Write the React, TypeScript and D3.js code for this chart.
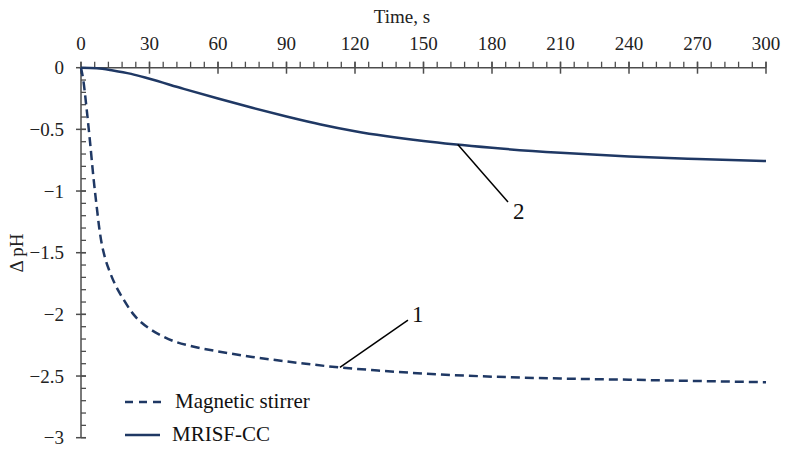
import React, { useEffect, useRef } from 'react';
import * as d3 from 'd3';

// Curve 1: magnetic stirrer
const timeMagnetic = [0, 1, 2.5, 4, 5.4, 6.9, 8, 9, 10.5, 12.5, 15, 18, 23, 29.5, 35, 41, 49, 60, 75, 96, 113, 130, 150, 180, 210, 240, 270, 300];
const dphMagnetic = [0, -0.1, -0.34, -0.61, -0.88, -1.13, -1.3, -1.42, -1.54, -1.65, -1.76, -1.86, -2.0, -2.11, -2.17, -2.22, -2.26, -2.3, -2.345, -2.395, -2.43, -2.455, -2.48, -2.505, -2.52, -2.53, -2.54, -2.55];

// Curve 2: MRISF-CC
const timeMrisf = [0, 7, 14, 22, 30, 45, 60, 75, 90, 105, 120, 150, 180, 210, 240, 270, 300];
const dphMrisf = [0, -0.004, -0.022, -0.05, -0.09, -0.172, -0.25, -0.325, -0.395, -0.46, -0.515, -0.595, -0.65, -0.69, -0.72, -0.74, -0.757];

const xTicks = [0, 30, 60, 90, 120, 150, 180, 210, 240, 270, 300];
const yTicks = [0, -0.5, -1, -1.5, -2, -2.5, -3];
const yTickLabels = ['0', '-0.5', '-1', '-1.5', '-2', '-2.5', '-3'];

const legendLabels = ['Magnetic stirrer', 'MRISF-CC'];

// leader lines: [curve point t, v] -> [end t, v]
const calloutLabels = ['1', '2'];
const calloutFrom = [[113.4, -2.43], [165, -0.622]];
const calloutTo = [[143.2, -2.046], [187, -1.089]];

const App = () => {
  const ref = useRef<SVGSVGElement>(null);

  useEffect(() => {
    const svg = d3.select(ref.current);
    svg.selectAll('*').remove();

    const x = d3.scaleLinear().domain([0, 300]).range([81, 766]);
    const y = d3.scaleLinear().domain([0, -3]).range([67.7, 437.7]);

    const axisColor = '#4d4d4d';
    const lineColor = '#1f3864';
    const font = 'Liberation Serif, Times New Roman, serif';

    const g = svg.append('g');

    // x axis (top)
    g.append('line')
      .attr('x1', x(0)).attr('x2', x(300))
      .attr('y1', y(0)).attr('y2', y(0))
      .attr('stroke', axisColor).attr('stroke-width', 1.5);
    g.selectAll('.xminor')
      .data(d3.range(0, 301, 6))
      .enter().append('line')
      .attr('x1', d => x(d)).attr('x2', d => x(d))
      .attr('y1', y(0) - 6).attr('y2', y(0))
      .attr('stroke', axisColor).attr('stroke-width', 1.3);
    g.selectAll('.xmajor')
      .data(xTicks)
      .enter().append('line')
      .attr('x1', d => x(d)).attr('x2', d => x(d))
      .attr('y1', y(0) - 6).attr('y2', y(0) + 6)
      .attr('stroke', axisColor).attr('stroke-width', 1.5);
    g.selectAll('.xlabel')
      .data(xTicks)
      .enter().append('text')
      .attr('x', d => x(d))
      .attr('y', y(0) - 17.5)
      .attr('text-anchor', 'middle')
      .attr('font-family', font).attr('font-size', 19)
      .attr('fill', '#222')
      .text(d => String(d));
    g.append('text')
      .attr('x', 402).attr('y', 23)
      .attr('text-anchor', 'middle')
      .attr('font-family', font).attr('font-size', 19)
      .attr('fill', '#222')
      .text('Time, s');

    // y axis (left)
    g.append('line')
      .attr('x1', x(0)).attr('x2', x(0))
      .attr('y1', y(0)).attr('y2', y(-3))
      .attr('stroke', axisColor).attr('stroke-width', 1.5);
    g.selectAll('.yminor')
      .data(d3.range(0, 31).map(i => -i / 10))
      .enter().append('line')
      .attr('x1', x(0)).attr('x2', x(0) + 5)
      .attr('y1', d => y(d)).attr('y2', d => y(d))
      .attr('stroke', axisColor).attr('stroke-width', 1.3);
    g.selectAll('.ymajor')
      .data(yTicks)
      .enter().append('line')
      .attr('x1', x(0) - 5).attr('x2', x(0) + 5)
      .attr('y1', d => y(d)).attr('y2', d => y(d))
      .attr('stroke', axisColor).attr('stroke-width', 1.5);
    g.selectAll('.ylabel')
      .data(yTicks)
      .enter().append('text')
      .attr('x', x(0) - 17)
      .attr('y', d => y(d))
      .attr('dy', '0.35em')
      .attr('text-anchor', 'end')
      .attr('font-family', font).attr('font-size', 19)
      .attr('fill', '#222')
      .text((d, i) => yTickLabels[i].replace('-', '\u2212'));
    g.append('text')
      .attr('transform', 'translate(23,253) rotate(-90)')
      .attr('text-anchor', 'middle')
      .attr('font-family', font).attr('font-size', 19)
      .attr('fill', '#222')
      .text('\u0394 pH');

    // curves
    const line = d3.line<[number, number]>()
      .x(d => x(d[0]))
      .y(d => y(d[1]))
      .curve(d3.curveMonotoneX);

    g.append('path')
      .datum(timeMrisf.map((t, i) => [t, dphMrisf[i]] as [number, number]))
      .attr('d', line)
      .attr('fill', 'none')
      .attr('stroke', lineColor)
      .attr('stroke-width', 2.5);

    g.append('path')
      .datum(timeMagnetic.map((t, i) => [t, dphMagnetic[i]] as [number, number]))
      .attr('d', line)
      .attr('fill', 'none')
      .attr('stroke', lineColor)
      .attr('stroke-width', 2.5)
      .attr('stroke-dasharray', '9,5');

    // callouts
    calloutLabels.forEach((lab, i) => {
      const [t0, v0] = calloutFrom[i];
      const [t1, v1] = calloutTo[i];
      g.append('line')
        .attr('x1', x(t0)).attr('y1', y(v0))
        .attr('x2', x(t1)).attr('y2', y(v1))
        .attr('stroke', '#000').attr('stroke-width', 1.5);
      g.append('text')
        .attr('x', x(t1) + (i === 0 ? 4 : 5))
        .attr('y', y(v1) + (i === 0 ? 2 : 17))
        .attr('font-family', font).attr('font-size', 23)
        .attr('fill', '#111')
        .text(lab);
    });

    // legend
    const legend = g.append('g');
    legend.append('line')
      .attr('x1', 125).attr('x2', 162).attr('y1', 402).attr('y2', 402)
      .attr('stroke', lineColor).attr('stroke-width', 2.5)
      .attr('stroke-dasharray', '8,6');
    legend.append('line')
      .attr('x1', 125).attr('x2', 160).attr('y1', 435).attr('y2', 435)
      .attr('stroke', lineColor).attr('stroke-width', 2.5);
    legend.selectAll('.ltext')
      .data(legendLabels)
      .enter().append('text')
      .attr('x', (d, i) => (i === 0 ? 175 : 172))
      .attr('y', (d, i) => (i === 0 ? 408 : 441))
      .attr('font-family', font).attr('font-size', 21)
      .attr('fill', '#111')
      .text(d => d);
  }, []);

  return (
    <svg
      ref={ref}
      width={792}
      height={455}
      style={{ position: 'absolute', left: 0, top: 0, background: '#fff' }}
    />
  );
};

export default App;
